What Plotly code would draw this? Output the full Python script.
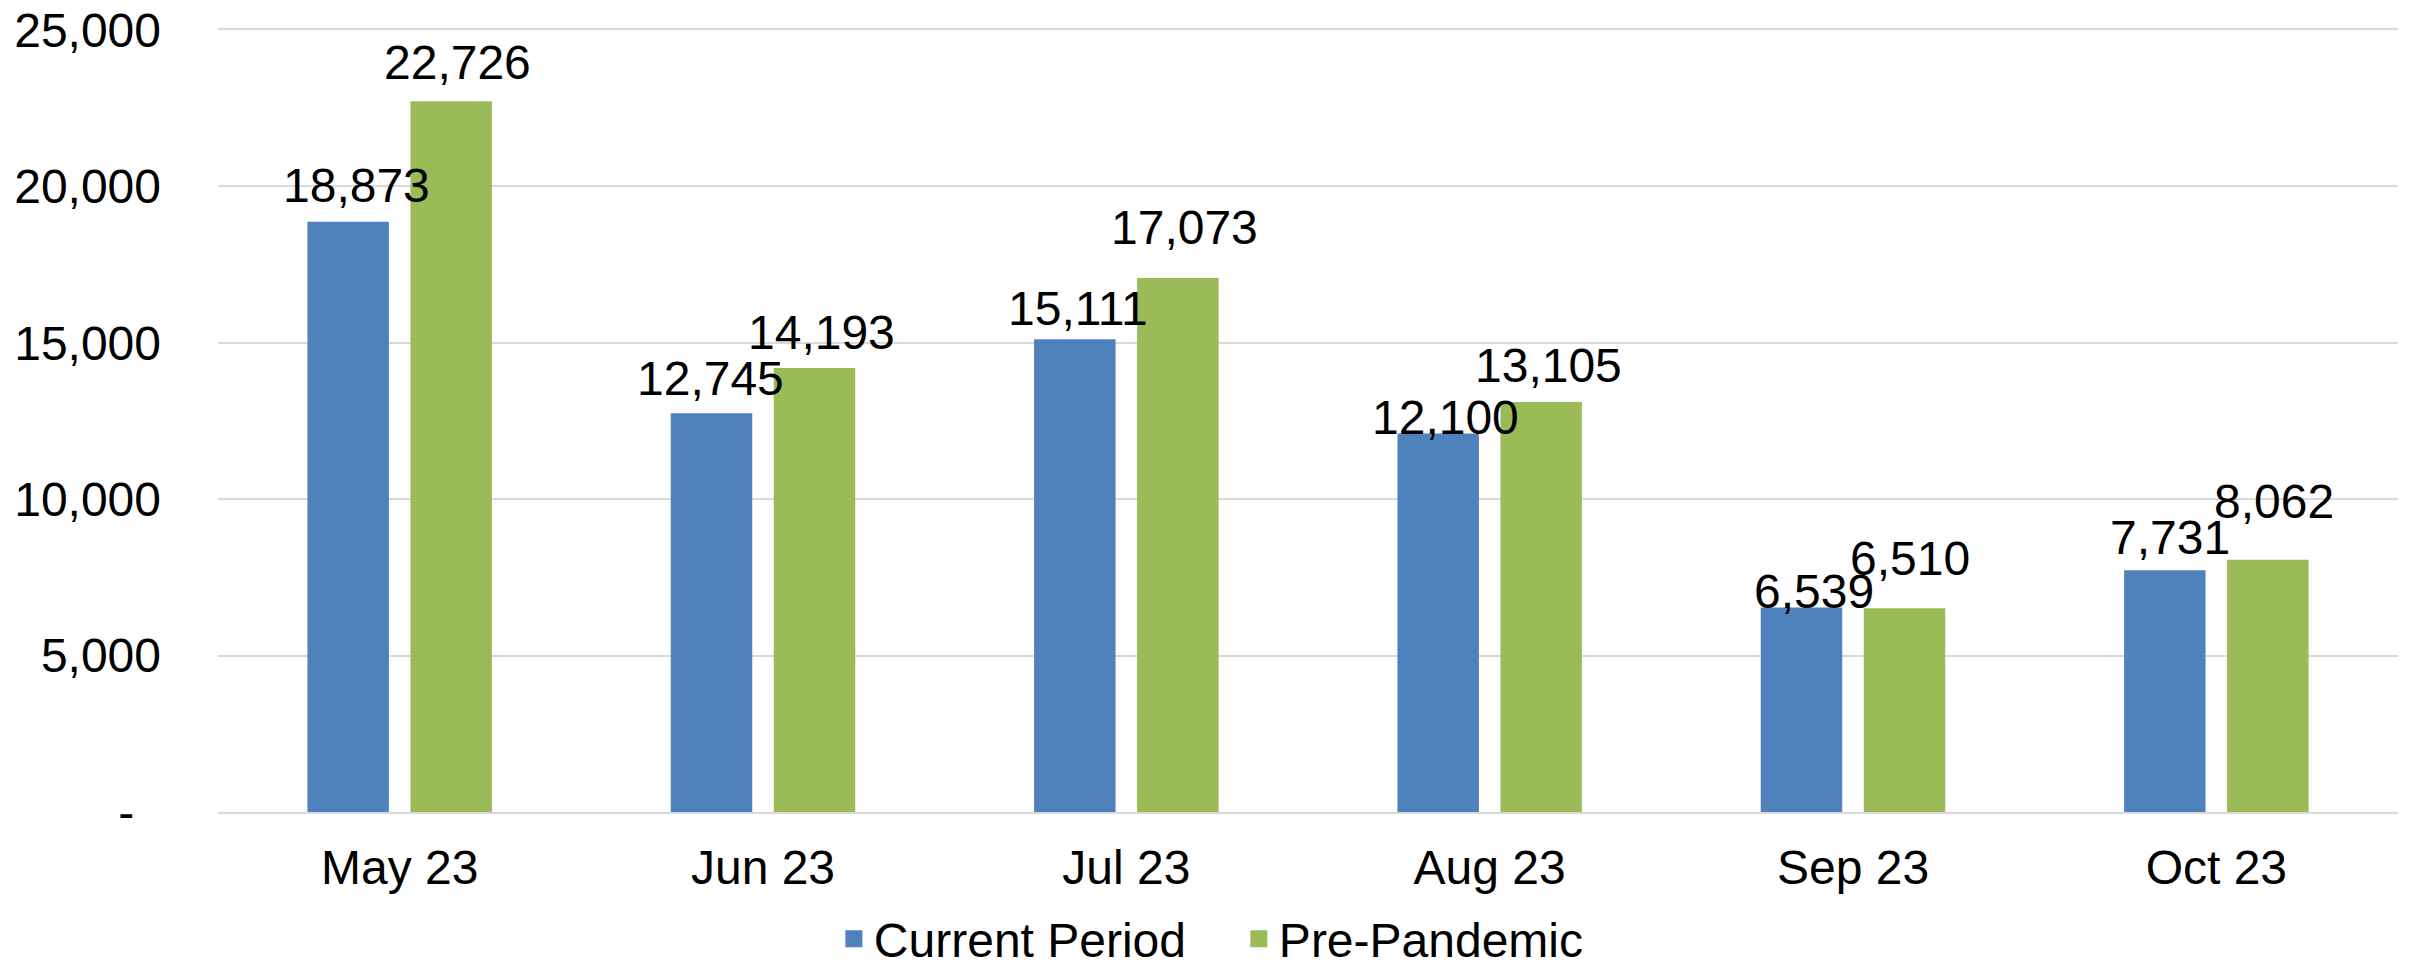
import plotly.graph_objects as go

months = ["May 23", "Jun 23", "Jul 23", "Aug 23", "Sep 23", "Oct 23"]
current_period = [18873, 12745, 15111, 12100, 6539, 7731]
pre_pandemic = [22726, 14193, 17073, 13105, 6510, 8062]
y_ticks = [0, 5000, 10000, 15000, 20000, 25000]
y_tick_text = ["-\u2007", "5,000", "10,000", "15,000", "20,000", "25,000"]

# label placement nudges (pixels): gap between bar top and text baseline, horizontal nudge
cur_label_gap = [22, 20, 16, 2, 1, 18]
pre_label_gap = [24, 21, 36, 22, 35, 44]
cur_label_dx = [8, -1, 3, 7, 13, 5]
pre_label_dx = [6, 7, 7, 7, 5, 6]

FONT = "Liberation Sans, Arial, sans-serif"
FS = 48
BLUE = "#4f81bd"
GREEN = "#9bbb59"
GRID = "#d9d9d9"

W, H = 2410, 967
ML, MR, MT, MB = 218, 12, 30, 155
BARGAP, BARGROUPGAP = 0.433, 0.209
plot_w = W - ML - MR
slot_px = plot_w / len(months) * (1 - BARGAP) / 2
BASELINE_PAD = 14  # annotation box bottom to text baseline

fig = go.Figure()
for name, vals, col, grp in [("Current Period", current_period, BLUE, "cur"),
                             ("Pre-Pandemic", pre_pandemic, GREEN, "pre")]:
    fig.add_trace(go.Bar(
        name=name, x=months, y=vals, offsetgroup=grp, legendgroup=grp,
        marker=dict(color=col, line=dict(width=0)),
        showlegend=False, hoverinfo="skip",
    ))
# legend-only entries (larger square swatch)
for name, col, grp in [("Current Period", BLUE, "cur"),
                       ("Pre-Pandemic", GREEN, "pre")]:
    fig.add_trace(go.Bar(
        name=name, x=[months[0]], y=[None], offsetgroup=grp, legendgroup=grp,
        marker=dict(color=col, line=dict(color=col, width=12)),
        showlegend=True, hoverinfo="skip",
    ))

annotations = []
for vals, gaps, dxs, side in [(current_period, cur_label_gap, cur_label_dx, -1),
                              (pre_pandemic, pre_label_gap, pre_label_dx, 1)]:
    for m, v, g, dx in zip(months, vals, gaps, dxs):
        annotations.append(dict(
            x=m, y=v, xref="x", yref="y", text=f"{v:,}", showarrow=False,
            xanchor="center", yanchor="bottom",
            xshift=side * slot_px / 2 + dx, yshift=g - BASELINE_PAD,
            font=dict(family=FONT, size=FS, color="black"),
        ))

fig.update_layout(
    width=W, height=H,
    margin=dict(l=ML, r=MR, t=MT, b=MB, autoexpand=False),
    paper_bgcolor="white", plot_bgcolor="white",
    barmode="group", bargap=BARGAP, bargroupgap=BARGROUPGAP,
    font=dict(family=FONT, size=FS, color="black"),
    showlegend=True,
    annotations=annotations,
    legend=dict(orientation="h", xref="container", yref="container",
                x=0.346, xanchor="left", y=0.029, yanchor="middle",
                font=dict(family=FONT, size=FS, color="black"),
                entrywidth=360, tracegroupgap=0, bgcolor="rgba(0,0,0,0)"),
)
fig.update_yaxes(range=[0, 25000], tickvals=y_ticks, ticktext=y_tick_text,
                 showgrid=True, gridcolor=GRID, gridwidth=2,
                 zeroline=False, showline=False, ticks="",
                 ticklabelstandoff=56,
                 tickfont=dict(family=FONT, size=FS, color="black"))
fig.update_xaxes(showgrid=False, showline=True, mirror=True,
                 linecolor=GRID, linewidth=2, ticks="",
                 ticklabelstandoff=12,
                 tickfont=dict(family=FONT, size=FS, color="black"))

fig.write_html(
    "out.html",
    config={"displayModeBar": False},
    post_script="document.body.style.margin='0';document.body.style.overflow='hidden';",
)
